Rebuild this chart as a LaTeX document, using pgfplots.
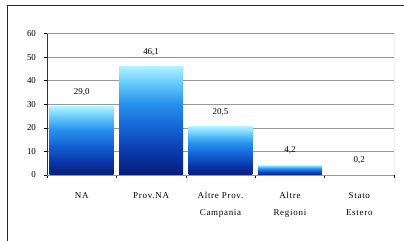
\documentclass[border=0pt]{standalone}
\usepackage{fontspec}
\setmainfont{Liberation Serif}
\usepackage{pgfplots}
\pgfplotsset{compat=1.18}
\definecolor{gridc}{RGB}{150,150,150}
\pgfdeclareverticalshading{mount}{100bp}{
  color(0bp)=(rgb,255:red,5;green,28;blue,120);
  color(25bp)=(rgb,255:red,5;green,28;blue,120);
  color(35bp)=(rgb,255:red,10;green,55;blue,170);
  color(47bp)=(rgb,255:red,20;green,100;blue,215);
  color(58bp)=(rgb,255:red,40;green,145;blue,235);
  color(67bp)=(rgb,255:red,100;green,200;blue,250);
  color(75bp)=(rgb,255:red,180;green,240;blue,255);
  color(100bp)=(rgb,255:red,180;green,240;blue,255)}
\pgfplotsset{mybar/.style={ybar, bar width=0.922, draw=none, shading=mount,
  nodes near coords,
  every node near coord/.append style={font=\fontsize{9}{10}\selectfont, anchor=center, yshift=14.5bp,
    /pgf/number format/.cd, fixed, fixed zerofill, precision=1, use comma, assume math mode=true}}}
\begin{document}
\begin{tikzpicture}
\path[use as bounding box] (0,0) rectangle (404bp,241bp);
\draw[line width=0.9bp, black!85] (7bp,0) -- (7bp,236bp) -- (404bp,236bp);
\begin{axis}[
  at={(47bp,66bp)}, anchor=south west,
  scale only axis, width=347bp, height=141.5bp,
  xmin=-0.5, xmax=4.5, ymin=0, ymax=60,
  ytick={0,10,...,60},
  ymajorgrids, grid style={gridc, line width=0.6bp},
  axis line style={gridc, line width=0.7bp},
  axis x line*=bottom,
  axis y line*=left,
  tick align=outside, major tick length=3.5bp,
  tick style={black, line width=0.6bp},
  xtick={-0.5,0.5,...,4.5}, xticklabels={},
  extra x ticks={0,1,2,3,4},
  extra x tick labels={NA, Prov.NA, {Altre Prov.\\Campania}, {Altre\\Regioni}, {Stato\\Estero}},
  extra x tick style={major tick length=0pt, tick label style={align=center, font=\fontsize{9}{17}\selectfont\addfontfeature{LetterSpace=8}, yshift=-14bp}},
  yticklabel style={font=\fontsize{9}{10}\selectfont, xshift=-4bp},
  /pgf/number format/assume math mode=true,
]
\addplot[mybar] coordinates {(0,29.0)};
\addplot[mybar] coordinates {(1,46.1)};
\addplot[mybar] coordinates {(2,20.5)};
\addplot[mybar] coordinates {(3,4.2)};
\addplot[mybar] coordinates {(4,0.2)};
\draw[black, line width=0.9bp] (axis cs:-0.5,0) -- (axis cs:4.5,0);
\draw[black!80, line width=0.9bp] (axis cs:-0.5,0) -- (axis cs:-0.5,60);
\draw[gridc, line width=0.7bp] (axis cs:-0.5,60) -- (axis cs:4.5,60) -- (axis cs:4.5,0);
\end{axis}
\end{tikzpicture}
\end{document}
